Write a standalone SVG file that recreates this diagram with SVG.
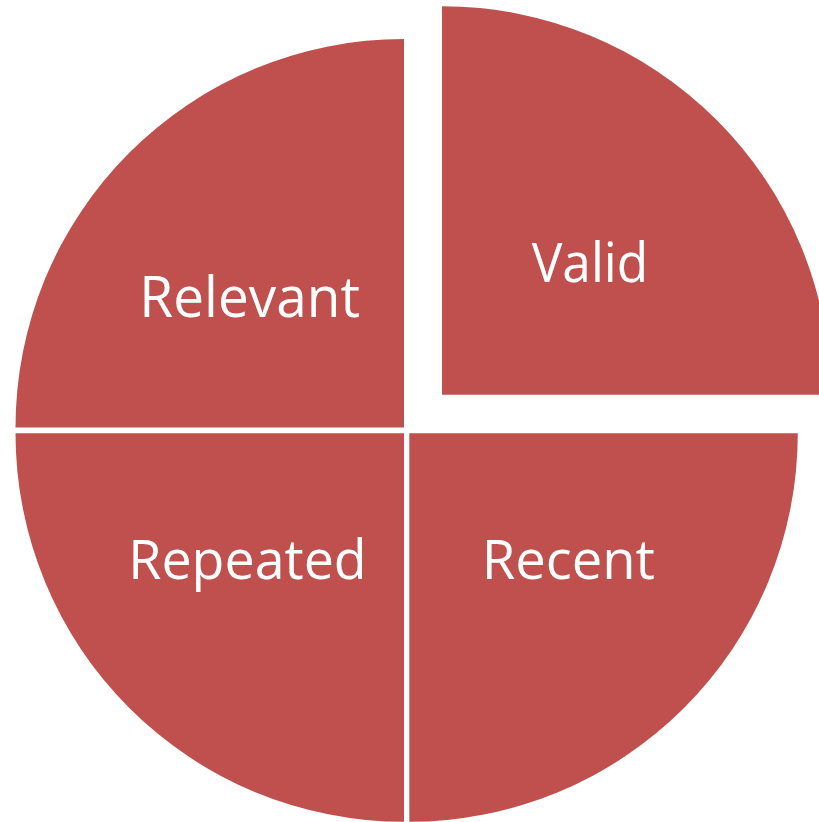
<svg xmlns="http://www.w3.org/2000/svg" width="819" height="822" viewBox="0 0 819 822">
<style>
.sec{fill:#C0504D;}
.lbl{fill:#FFFFFF;font-family:"Open Sans","Noto Sans","Liberation Sans",sans-serif;font-size:55px;text-anchor:start;}
</style>
<rect width="819" height="822" fill="#FFFFFF"/>
<g id="relevant">
<path class="sec" d="M404,427.5 L15.5,427.5 A388.5,388.5 0 0 1 404,39 Z"/>
<text class="lbl" x="139.3" y="317.3" textLength="220.7" lengthAdjust="spacingAndGlyphs" style="font-size:57px">Relevant</text>
</g>
<g id="valid">
<path class="sec" d="M442,394.7 L442,6.2 A388.5,388.5 0 0 1 830.5,394.7 Z"/>
<text class="lbl" x="531.7" y="281.7" textLength="116.6" lengthAdjust="spacingAndGlyphs">Valid</text>
</g>
<g id="recent">
<path class="sec" d="M409.3,433.3 L797.8,433.3 A388.5,388.5 0 0 1 409.3,821.8 Z"/>
<text class="lbl" x="481.7" y="578.7" textLength="173.3" lengthAdjust="spacingAndGlyphs">Recent</text>
</g>
<g id="repeated">
<path class="sec" d="M404,433.3 L404,821.8 A388.5,388.5 0 0 1 15.5,433.3 Z"/>
<text class="lbl" x="128.3" y="579.3" textLength="238.4" lengthAdjust="spacingAndGlyphs">Repeated</text>
</g>
<g id="connectors"></g>
</svg>
